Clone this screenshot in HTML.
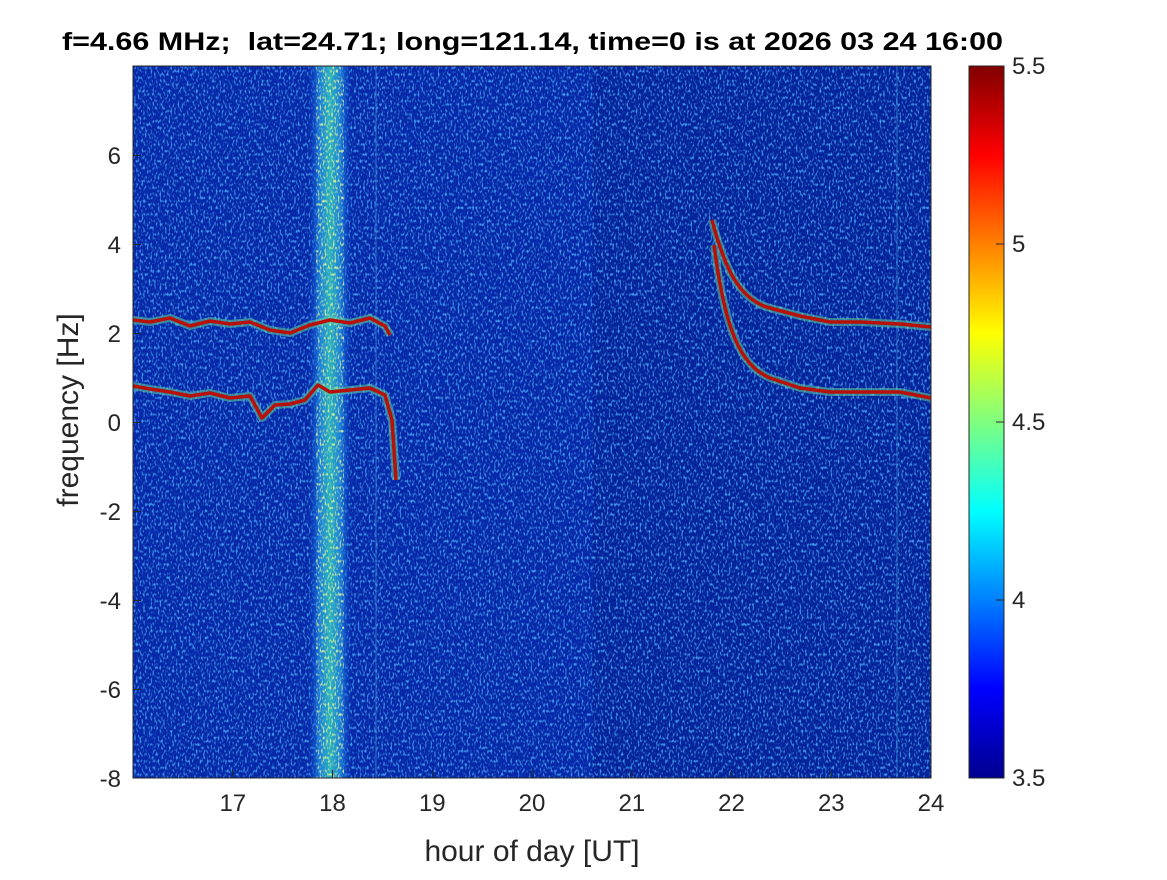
<!DOCTYPE html>
<html><head><meta charset="utf-8"><style>
body{margin:0;background:#fff;}
svg text{font-family:"Liberation Sans",Arial,sans-serif;fill:#262626;}
</style></head><body>
<svg width="1167" height="875" viewBox="0 0 1167 875" xmlns="http://www.w3.org/2000/svg">
<defs>
<filter id="noise" x="0" y="0" width="100%" height="100%">
<feTurbulence type="fractalNoise" baseFrequency="0.55 0.3" numOctaves="1" seed="3" result="t"/>
<feColorMatrix in="t" type="matrix" values="0 0 0 0 0.08  0 0 0 0 0.45  0 0 0 0 1.0  0 0 0 4 -2.0" result="c"/>
<feComposite in="c" in2="SourceGraphic" operator="in"/>
</filter>
<filter id="bandn" x="0" y="0" width="100%" height="100%">
<feTurbulence type="fractalNoise" baseFrequency="0.6 0.3" numOctaves="1" seed="7" result="t"/>
<feColorMatrix in="t" type="matrix" values="0 0 0 0 0.85  0 0 0 0 1.0  0 0 0 0 0.3  0 0 0 4 -2.0" result="c"/>
<feComposite in="c" in2="SourceGraphic" operator="in"/>
</filter>
<linearGradient id="band" x1="0" x2="1" y1="0" y2="0">
<stop offset="0" stop-color="#1040c0" stop-opacity="0"/>
<stop offset="0.25" stop-color="#1a80e0"/>
<stop offset="0.5" stop-color="#30c0c0"/>
<stop offset="0.75" stop-color="#1a80e0"/>
<stop offset="1" stop-color="#1040c0" stop-opacity="0"/>
</linearGradient>
<linearGradient id="jet" x1="0" x2="0" y1="1" y2="0">
<stop offset="0" stop-color="#00008f"/>
<stop offset="0.125" stop-color="#0000ff"/>
<stop offset="0.375" stop-color="#00ffff"/>
<stop offset="0.625" stop-color="#ffff00"/>
<stop offset="0.875" stop-color="#ff0000"/>
<stop offset="1" stop-color="#800000"/>
</linearGradient>
</defs>
<rect x="133" y="66" width="798" height="712" fill="#0628a8"/>
<rect x="593" y="66" width="338" height="712" fill="#04229a"/>
<rect x="133" y="66" width="798" height="712" fill="#fff" filter="url(#noise)" opacity="0.85"/>
<rect x="308" y="66" width="44" height="712" fill="url(#band)" opacity="0.9"/>
<rect x="316" y="66" width="28" height="712" fill="#fff" filter="url(#bandn)" opacity="0.85"/>
<line x1="376" y1="66" x2="376" y2="778" stroke="#3a8ad8" stroke-width="1.5" opacity="0.5"/>
<line x1="897" y1="66" x2="897" y2="778" stroke="#3a8ad8" stroke-width="1.5" opacity="0.5"/>
<g fill="none" stroke-linejoin="round">
<g stroke="#60d0a0" stroke-width="8" opacity="0.55">
<path d="M133,320 L150,322 L170,318 L190,326 L210,321 L230,324 L250,322 L270,330 L290,333 L310,325 L330,320 L350,323 L370,318 L385,326 L390,335"/>
<path d="M133,386 L150,389 L170,392 L190,396 L210,393 L230,398 L250,396 L262,418 L275,405 L290,404 L305,400 L318,385 L330,392 L350,390 L370,388 L385,395 L392,420 L396,480"/>
<path d="M712,220 C725,270 740,300 770,308 L800,316 L830,322 L860,322 L900,324 L931,327"/>
<path d="M714,245 C725,330 740,365 770,378 L800,388 L830,392 L860,392 L900,392 L931,398"/>
</g>
<g stroke="#b81008" stroke-width="3.5">
<path d="M133,320 L150,322 L170,318 L190,326 L210,321 L230,324 L250,322 L270,330 L290,333 L310,325 L330,320 L350,323 L370,318 L385,326 L390,335"/>
<path d="M133,386 L150,389 L170,392 L190,396 L210,393 L230,398 L250,396 L262,418 L275,405 L290,404 L305,400 L318,385 L330,392 L350,390 L370,388 L385,395 L392,420 L396,480"/>
<path d="M712,220 C725,270 740,300 770,308 L800,316 L830,322 L860,322 L900,324 L931,327"/>
<path d="M714,245 C725,330 740,365 770,378 L800,388 L830,392 L860,392 L900,392 L931,398"/>
</g>
</g>
<rect x="133" y="66" width="798" height="712" fill="none" stroke="#262626" stroke-width="1"/>
<g stroke="#262626">
<line x1="232.8" y1="778" x2="232.8" y2="770"/><line x1="332.5" y1="778" x2="332.5" y2="770"/>
<line x1="432.3" y1="778" x2="432.3" y2="770"/><line x1="532" y1="778" x2="532" y2="770"/>
<line x1="631.8" y1="778" x2="631.8" y2="770"/><line x1="731.5" y1="778" x2="731.5" y2="770"/>
<line x1="831.3" y1="778" x2="831.3" y2="770"/>
<line x1="133" y1="155.5" x2="141" y2="155.5"/><line x1="133" y1="244.5" x2="141" y2="244.5"/>
<line x1="133" y1="333.5" x2="141" y2="333.5"/><line x1="133" y1="422.5" x2="141" y2="422.5"/>
<line x1="133" y1="511.5" x2="141" y2="511.5"/><line x1="133" y1="600.5" x2="141" y2="600.5"/>
<line x1="133" y1="689.5" x2="141" y2="689.5"/>
</g>
<g font-size="24" text-anchor="middle">
<text x="232.8" y="811">17</text><text x="332.5" y="811">18</text><text x="432.3" y="811">19</text>
<text x="532" y="811">20</text><text x="631.8" y="811">21</text><text x="731.5" y="811">22</text>
<text x="831.3" y="811">23</text><text x="931" y="811">24</text>
</g>
<g font-size="24" text-anchor="end">
<text x="121" y="164">6</text><text x="121" y="253">4</text><text x="121" y="342">2</text>
<text x="121" y="431">0</text><text x="121" y="520">-2</text><text x="121" y="609">-4</text>
<text x="121" y="698">-6</text><text x="121" y="787">-8</text>
</g>
<text x="532" y="861" font-size="30" text-anchor="middle">hour of day [UT]</text>
<text transform="translate(78,410) rotate(-90)" font-size="30" text-anchor="middle">frequency [Hz]</text>
<text x="62" y="50" font-size="25" font-weight="bold" textLength="941" lengthAdjust="spacingAndGlyphs" style="fill:#000;white-space:pre" xml:space="preserve">f=4.66 MHz;  lat=24.71; long=121.14, time=0 is at 2026 03 24 16:00</text>
<rect x="969" y="66" width="35" height="712" fill="url(#jet)" stroke="#262626" stroke-width="1"/>
<g stroke="#262626">
<line x1="996" y1="244" x2="1004" y2="244"/><line x1="996" y1="422" x2="1004" y2="422"/><line x1="996" y1="600" x2="1004" y2="600"/>
</g>
<g font-size="24">
<text x="1012" y="74">5.5</text><text x="1012" y="252">5</text><text x="1012" y="430">4.5</text>
<text x="1012" y="608">4</text><text x="1012" y="786">3.5</text>
</g>
</svg>
</body></html>
